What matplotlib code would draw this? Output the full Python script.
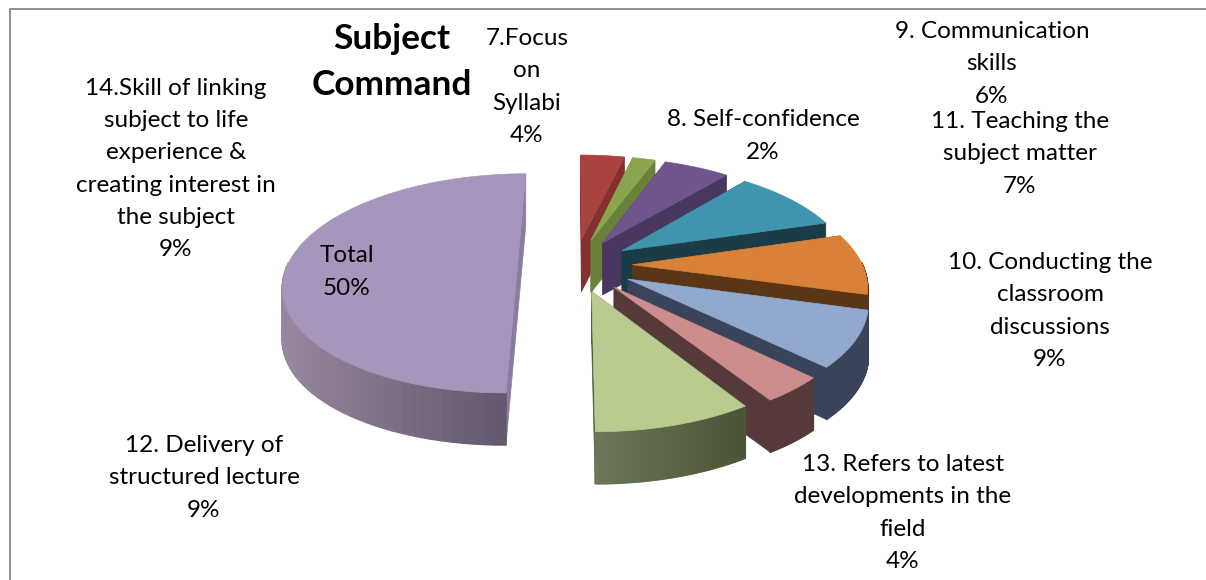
import numpy as np
import matplotlib
matplotlib.use('Agg')
import matplotlib.pyplot as plt
from matplotlib.collections import PolyCollection
from matplotlib.colors import to_rgb
from matplotlib.patches import Polygon

plt.rcParams['font.family'] = ['Lato', 'DejaVu Sans']

# slices clockwise from 12 o'clock
names = ['7.Focus\non\nSyllabi', '8. Self-confidence', '9. Communication\nskills',
         '10. Conducting the\nclassroom\ndiscussions', '11. Teaching the\nsubject matter',
         '12. Delivery of\nstructured lecture', '13. Refers to latest\ndevelopments in the\nfield',
         '14.Skill of linking\nsubject to life\nexperience &\ncreating interest in\nthe subject', 'Total']
# percentages as printed in the labels
values = [4, 2, 6, 9, 7, 9, 4, 9, 50]
# slice sizes as they look in the picture
sizes = [3.7, 1.9, 5.5, 9.3, 8.9, 8.0, 3.7, 9.0, 50.0]

top_colors = ['#A9433F', '#8BA54E', '#70558D', '#4095AE', '#D98138', '#93A8CF', '#CD8D8C', '#B9CB8F', '#A696BC']
side_colors = ['#83302E', '#6A803B', '#4A3760', '#1A3C47', '#5A3516', '#39445A', '#563A3A', '#4D5739', '#8A7CA0']
arc_left = ['#83302E', '#6A803B', '#4A3760', '#1A3C47', '#5A3516', '#39445A', '#563A3A', '#6C7659', '#5E5469']
arc_right = ['#83302E', '#6A803B', '#4A3760', '#1A3C47', '#5A3516', '#39445A', '#563A3A', '#4A5437', '#97879F']
explode = [0.25, 0.25, 0.25, 0.25, 0.25, 0.26, 0.26, 0.25, 0.25]
label_x = [527, 763, 992, 1050, 1020, 204, 903, 176, 347]
label_y = [87, 136, 64, 311, 154, 478, 513, 169, 272]

# projection of the pie plane to pixels
cx, cy = 575, 265
rx, ry = 230, 106.5
persp = 0.1676
depth = 52


def project(u, v):
    s = 1 / (1 + persp * v)
    return cx + rx * u * s, cy - ry * v * s


def main():
    fig = plt.figure(figsize=(12.06, 5.8), dpi=100)
    ax = fig.add_axes([0, 0, 1, 1])
    ax.set_xlim(0, 1206)
    ax.set_ylim(580, 0)
    ax.axis('off')

    # chart frame, cut off on the right and at the bottom
    ax.plot([9.5, 9.5, 1206], [580, 8.5, 8.5], color='#868686', lw=1.3)

    edges = np.cumsum([0] + sizes) / sum(sizes) * 2 * np.pi
    for i in range(len(sizes)):
        a0, a1 = edges[i], edges[i + 1]
        mid = (a0 + a1) / 2
        u0, v0 = explode[i] * np.sin(mid), explode[i] * np.cos(mid)
        ang = np.linspace(a0, a1, 80)
        us = u0 + np.sin(ang)
        vs = v0 + np.cos(ang)
        x, y = project(us, vs)
        xa, ya = project(u0, v0)

        # radial walls, far one first
        walls = [(x[0], y[0]), (x[-1], y[-1])]
        walls.sort(key=lambda p: p[1])
        for wx, wy in walls:
            ax.add_patch(Polygon([(xa, ya), (wx, wy), (wx, wy + depth), (xa, ya + depth)],
                                 closed=True, fc=side_colors[i], ec=side_colors[i], lw=0.5))

        # outer wall with a gradient along the arc
        quads = []
        cols = []
        c_l = np.array(to_rgb(arc_left[i]))
        c_r = np.array(to_rgb(arc_right[i]))
        xmin, xmax = x.min(), x.max()
        for j in range(len(x) - 1):
            # only the part facing the viewer
            if np.cos((ang[j] + ang[j + 1]) / 2) > 0.02:
                continue
            quads.append([(x[j], y[j]), (x[j + 1], y[j + 1]), (x[j + 1], y[j + 1] + depth), (x[j], y[j] + depth)])
            t = (x[j] - xmin) / (xmax - xmin)
            cols.append(c_l + (c_r - c_l) * t if i != 8 else c_r + (c_l - c_r) * t)
        if quads:
            ax.add_collection(PolyCollection(quads, facecolors=cols, edgecolors=cols, linewidths=1.2))

        # top face
        ax.add_patch(Polygon(np.column_stack([np.r_[xa, x], np.r_[ya, y]]), closed=True,
                             fc=top_colors[i], ec=top_colors[i], lw=0.5))

    for name, val, lx, ly in zip(names, values, label_x, label_y):
        ax.text(lx, ly, '%s\n%d%%' % (name, val), ha='center', va='center',
                fontsize=17.5, linespacing=1.65, color='black')
    ax.text(392, 62, 'Subject\nCommand', ha='center', va='center', fontsize=25.4,
            fontweight='bold', linespacing=1.55, color='black')

    fig.savefig('out.png', dpi=100)


if __name__ == '__main__':
    main()
